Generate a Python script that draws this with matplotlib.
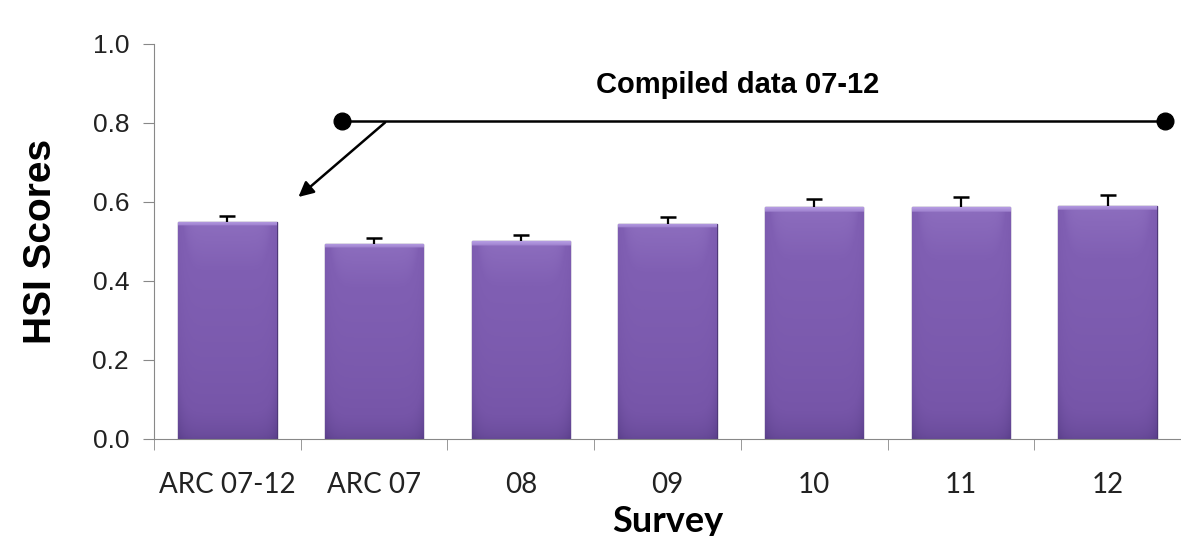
import matplotlib
matplotlib.use("Agg")
import matplotlib.pyplot as plt
import numpy as np
from matplotlib.colors import LinearSegmentedColormap

categories = ["ARC 07-12", "ARC 07", "08", "09", "10", "11", "12"]
hsi_scores = [0.550, 0.494, 0.501, 0.545, 0.586, 0.586, 0.591]
hsi_err = [0.015, 0.014, 0.015, 0.018, 0.022, 0.026, 0.026]
y_ticks = [0.0, 0.2, 0.4, 0.6, 0.8, 1.0]

fig = plt.figure(figsize=(11.81, 5.36), dpi=100)
ax = fig.add_axes([0.1304, 0.181, 0.8696, 0.737])

x = np.arange(len(categories))
bar_w = 0.67
bars = ax.bar(x, hsi_scores, width=bar_w, color="#7A58AC", edgecolor="#4e3878",
              linewidth=1.0, zorder=2)

# gradient fill clipped to each bar
cmap = LinearSegmentedColormap.from_list("purp", ["#5a3f8a", "#7655a8", "#805fb3", "#b9a0e6"])
ny, nx = 400, 80
gy = np.linspace(0, 1, ny)[:, None]
gx = np.linspace(-1, 1, nx)[None, :]
grad = 0.12 + 0.62 * gy ** 0.5 - 0.15 * np.abs(gx) ** 8
grad = np.clip(grad, 0, 1)
for rect in bars:
    x0 = rect.get_x()
    h = rect.get_height()
    g = grad.copy()
    top_band = max(1, int(ny * 0.012 / h))
    g[-top_band:, :] = np.linspace(0.85, 0.98, top_band)[:, None]
    im = ax.imshow(g, extent=[x0, x0 + bar_w, 0, h], origin="lower", cmap=cmap,
                   vmin=0, vmax=1, aspect="auto", zorder=2.1, interpolation="bilinear")
    im.set_clip_path(rect)

tops = np.array(hsi_scores) + np.array(hsi_err)
ax.vlines(x, hsi_scores, tops, color="black", lw=1.6, zorder=3)
ax.plot(x, tops, linestyle="none", marker="_", markersize=11, markeredgewidth=1.8,
        color="black", zorder=3)

ax.set_xlim(-0.5, 6.47)
ax.set_ylim(0, 1.0)
ax.set_yticks(y_ticks)
ax.set_yticklabels([f"{v:.1f}" for v in y_ticks], fontsize=19, family="Liberation Sans", color="#222222")
ax.set_xticks(x)
ax.set_xticklabels(categories, fontsize=20, family="Lato", color="#222222")
ax.set_xticks(np.arange(-0.5, 7, 1), minor=True)
ax.tick_params(axis="x", which="major", length=0, pad=24)
ax.tick_params(axis="x", which="minor", length=8, color="#888888", direction="out")
ax.tick_params(axis="y", length=8, color="#888888", direction="out", pad=10)

for s in ["top", "right"]:
    ax.spines[s].set_visible(False)
ax.spines["left"].set_color("#888888")
ax.spines["bottom"].set_color("#888888")

ax.set_ylabel("HSI Scores", fontsize=28, fontweight="bold", family="Liberation Sans", labelpad=24)
ax.set_xlabel("Survey", fontsize=26, fontweight="bold", family="Lato", labelpad=5)

# annotation: compiled data bracket
line_x = [0.78, 6.39]
line_y = 0.806
ax.plot(line_x, [line_y, line_y], color="black", lw=1.8, marker="o", markersize=12,
        zorder=4, clip_on=False)
ax.annotate("", xy=(0.47, 0.608), xytext=(1.09, line_y),
            arrowprops=dict(arrowstyle="-|>,head_length=0.9,head_width=0.45", color="black", lw=1.8),
            zorder=4)
ax.text(3.475, 0.895, "Compiled data 07-12", ha="center", va="center", fontsize=21,
        fontweight="bold", family="Liberation Sans")

fig.savefig("out.png", dpi=100)
